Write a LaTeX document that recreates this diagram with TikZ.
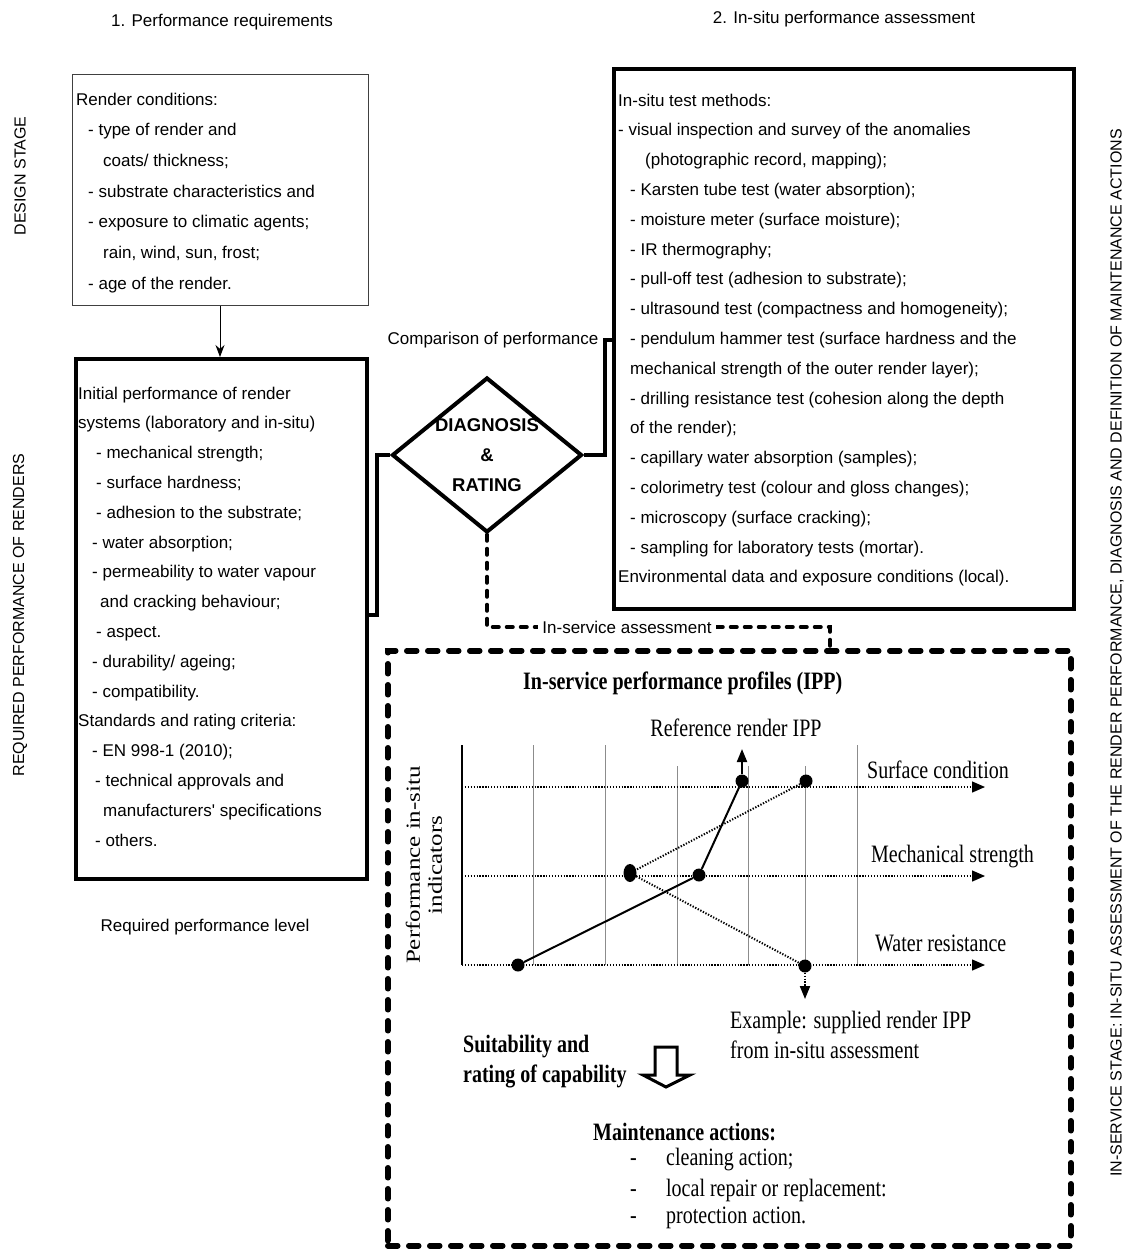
\documentclass[tikz,border=0pt]{standalone}
\usepackage{fontspec}
\setmainfont{Liberation Serif}
\newfontfamily\labelfont{Liberation Sans}
\newfontfamily\chartfont[FakeStretch=0.8]{Liberation Serif}
\newfontfamily\chartrot[FakeStretch=1.25]{Liberation Serif}
\usetikzlibrary{shapes.geometric,arrows.meta}

\tikzset{
  thinbox/.style={draw=black!75, line width=1.3, inner sep=0, anchor=north west},
  heavybox/.style={draw=black, line width=4, inner sep=0, anchor=north west},
  boxtext/.style={font=\labelfont\fontsize{17}{29.8}\selectfont, align=left, inner sep=0, anchor=north west},
  titletext/.style={font=\labelfont\fontsize{17}{20}\selectfont, inner sep=0},
  sidetext/.style={font=\labelfont\fontsize{16}{18}\selectfont, rotate=90, inner sep=0},
  conn/.style={line width=3.5, line join=miter},
  dotconn/.style={line width=3.5, dash pattern=on 6.5pt off 7.5pt, line cap=round},
  ippbox/.style={draw, line width=5.5, dash pattern=on 10pt off 11pt, line cap=round, inner sep=0, anchor=north west},
  chartlabel/.style={font=\chartfont\fontsize{25}{30}\selectfont, inner sep=0, anchor=west},
  chartbold/.style={font=\chartfont\bfseries\fontsize{25}{30}\selectfont, inner sep=0, anchor=west},
  gridline/.style={draw=black!45, line width=0.9},
  levelline/.style={line width=1.3, dash pattern=on 1.3pt off 1.6pt, -{Triangle[length=13pt,width=11pt]}},
  dot/.style={circle, fill=black, inner sep=0, minimum size=13},
}

\begin{document}
\begin{tikzpicture}[x=1pt, y=-1pt]
\useasboundingbox[fill=white] (0,0) rectangle (1128,1251);

% ---------- titles and side captions ----------
\node[titletext] (t1) at (222,22) {1. Performance requirements};
\node[titletext] (t2) at (844,19) {2. In-situ performance assessment};
\node[titletext] (t3) at (205,927) {Required performance level};
\node[sidetext] (side1) at (20,176) {DESIGN STAGE};
\node[sidetext] (side2) at (20,615) {REQUIRED PERFORMANCE OF RENDERS};
\node[sidetext] (side3) at (1117,653) {IN-SERVICE STAGE: IN-SITU ASSESSMENT OF THE RENDER PERFORMANCE, DIAGNOSIS AND DEFINITION OF MAINTENANCE ACTIONS};

% ---------- render conditions ----------
\node[thinbox, minimum width=296, minimum height=231] (fac) at (72,74) {};
\node[boxtext, font=\labelfont\fontsize{17}{30.7}\selectfont] (factxt) at (76,92.5) {%
Render conditions:\\
\hspace*{12pt}- type of render and\\
\hspace*{27pt}coats/ thickness;\\
\hspace*{12pt}- substrate characteristics and\\
\hspace*{12pt}- exposure to climatic agents;\\
\hspace*{27pt}rain, wind, sun, frost;\\
\hspace*{12pt}- age of the render.};

% ---------- required performance ----------
\node[heavybox, minimum width=291, minimum height=520] (req) at (74,357) {};
\node[boxtext] (reqtxt) at (78,386.5) {%
Initial performance of render\\
systems (laboratory and in-situ)\\
\hspace*{18pt}- mechanical strength;\\
\hspace*{18pt}- surface hardness;\\
\hspace*{18pt}- adhesion to the substrate;\\
\hspace*{14pt}- water absorption;\\
\hspace*{14pt}- permeability to water vapour\\
\hspace*{22pt}and cracking behaviour;\\
\hspace*{18pt}- aspect.\\
\hspace*{14pt}- durability/ ageing;\\
\hspace*{14pt}- compatibility.\\
Standards and rating criteria:\\
\hspace*{14pt}- EN 998-1 (2010);\\
\hspace*{17pt}- technical approvals and\\
\hspace*{25pt}manufacturers' specifications\\
\hspace*{17pt}- others.};

% ---------- in-situ tests ----------
\node[heavybox, minimum width=460, minimum height=540] (insitu) at (612,67) {};
\node[boxtext] (insitutxt) at (618,93.5) {%
In-situ test methods:\\
- visual inspection and survey of the anomalies\\
\hspace*{27pt}(photographic record, mapping);\\
\hspace*{12pt}- Karsten tube test (water absorption);\\
\hspace*{12pt}- moisture meter (surface moisture);\\
\hspace*{12pt}- IR thermography;\\
\hspace*{12pt}- pull-off test (adhesion to substrate);\\
\hspace*{12pt}- ultrasound test (compactness and homogeneity);\\
\hspace*{12pt}- pendulum hammer test (surface hardness and the\\
\hspace*{12pt}mechanical strength of the outer render layer);\\
\hspace*{12pt}- drilling resistance test (cohesion along the depth\\
\hspace*{12pt}of the render);\\
\hspace*{12pt}- capillary water absorption (samples);\\
\hspace*{12pt}- colorimetry test (colour and gloss changes);\\
\hspace*{12pt}- microscopy (surface cracking);\\
\hspace*{12pt}- sampling for laboratory tests (mortar).\\
Environmental data and exposure conditions (local).};

% ---------- decision diamond ----------
\node[diamond, draw, line width=4, minimum width=190, minimum height=155, inner sep=0] (dia) at (487,455) {};
\node[font=\labelfont\bfseries\fontsize{18.5}{30}\selectfont, align=center, inner sep=0] (diatxt) at (487,455) {DIAGNOSIS\\\&\\RATING};

% ---------- in-service performance profiles ----------
\node[ippbox, minimum width=683, minimum height=595] (ipp) at (385,648) {};

% ---------- connectors ----------
\draw[line width=1, -{Stealth[length=12pt,width=9pt]}] (fac.south -| 220,0) -- (req.north -| 220,0);
\draw[conn] (req.east |- 0,615) -- (377,615) |- (dia.west);
\draw[conn] (dia.east) -| (605,340) -- (insitu.west |- 0,340);
\node[titletext] (cmp) at (493,340) {Comparison of performance};
\draw[dotconn] (dia.south) |- (830,627) -- (ipp.north -| 830,0);
\node[titletext, fill=white, inner xsep=4pt, inner ysep=2pt] (asslbl) at (627,627) {In-service assessment};

% ---------- profile chart ----------
\node[chartbold] (ipptitle) at (523,683) {In-service performance profiles (IPP)};
\node[font=\chartrot\fontsize{20}{22}\selectfont, rotate=90, align=center, inner sep=0] (yax) at (424,865) {Performance in-situ\\indicators};

\draw[line width=1.6] (462,745) -- (462,965);
\foreach \gx/\gy in {533/745, 605/745, 677/766, 748/766, 805/766, 857/745}
  \draw[gridline] (\gx,\gy) -- (\gx,965);

\coordinate (l1a) at (462,787);  \coordinate (l1b) at (985,787);
\coordinate (l2a) at (462,876);  \coordinate (l2b) at (985,876);
\coordinate (l3a) at (462,965);  \coordinate (l3b) at (985,965);
\draw[levelline] (l1a) -- (l1b);
\draw[levelline] (l2a) -- (l2b);
\draw[levelline] (l3a) -- (l3b);

\node[chartlabel] (lsurf) at (867,770) {Surface condition};
\node[chartlabel] (lmech) at (871,857) {Mechanical strength};
\node[chartlabel] (lwat) at (875,943) {Water resistance};

% reference render profile
\node[dot] (r1) at (518,965) {};
\node[dot] (r2) at (699,875) {};
\node[dot] (r3) at (742,781) {};
\draw[line width=2] (r1) -- (r2) -- (r3);
\coordinate (rtip) at (742,749);
\draw[line width=2, -{Triangle[length=13pt,width=10pt]}] (r3) -- (rtip);
\node[chartlabel, anchor=center] (rlbl) at (736,728) {Reference render IPP};

% supplied render profile
\node[dot] (s1) at (806,781) {};
\node[ellipse, fill=black, inner sep=0, minimum width=13, minimum height=18] (s2) at (630,873) {};
\node[dot] (s3) at (805,966) {};
\draw[line width=2, dash pattern=on 1.3pt off 1.6pt] (s1) -- (s2) -- (s3);
\coordinate (stip) at (805,999);
\draw[line width=2, dash pattern=on 1.3pt off 1.6pt, -{Triangle[length=13pt,width=10pt]}] (s3) -- (stip);
\node[chartlabel, align=left] (exlbl) at (730,1035) {Example: supplied render IPP\\from in-situ assessment};

% rating and maintenance
\node[chartbold, align=left] (suit) at (463,1062) {Suitability and\\rating of capability};
\draw[line width=3, line join=miter] (655,1047) -- (677,1047) -- (677,1075) -- (690,1075)
  -- (666,1087) -- (643,1075) -- (655,1075) -- cycle;
\node[chartbold] (maint) at (593,1132) {Maintenance actions:};
\node[chartlabel] (m1) at (630,1160) {\makebox[36pt][l]{-}cleaning action;};
\node[chartlabel] (m2) at (630,1190) {\makebox[36pt][l]{-}local repair or replacement:};
\node[chartlabel] (m3) at (630,1218) {\makebox[36pt][l]{-}protection action.};
\end{tikzpicture}
\end{document}
